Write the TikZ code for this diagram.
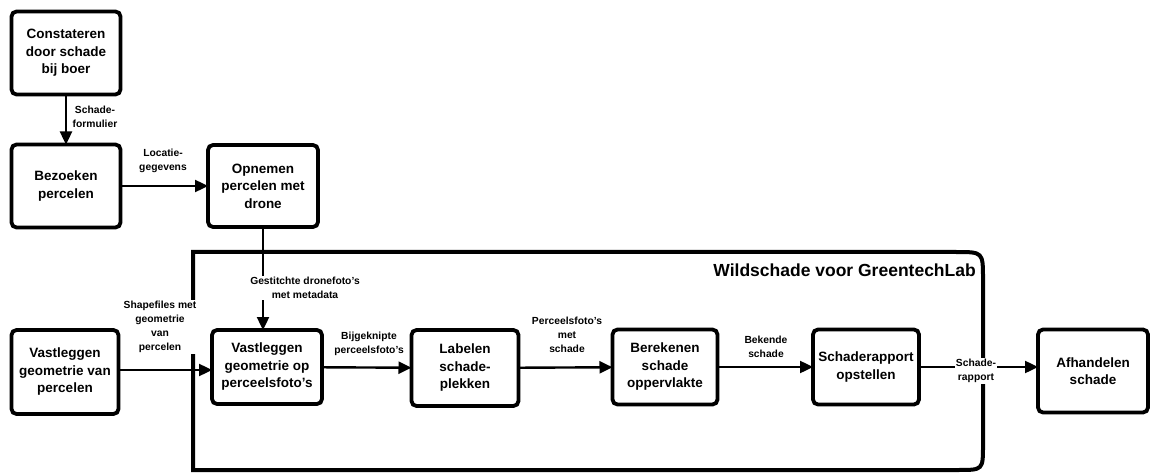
\documentclass[tikz,border=0pt]{standalone}
\usepackage{fontspec}
\setmainfont{Liberation Sans}
\usetikzlibrary{arrows.meta}
\begin{document}
\begin{tikzpicture}[x=1pt,y=-1pt,
 box/.style={draw, line width=3.8pt, rounded corners=5pt, align=center, font=\bfseries\fontsize{13.5}{17.5}\selectfont, inner sep=2pt, outer sep=0pt},
 flow/.style={line width=2.4pt, -{Triangle[length=13pt,width=12pt]}},
 lbl/.style={fill=white, align=center, font=\bfseries\fontsize{10.3}{14}\selectfont, inner sep=1pt},
 ttl/.style={font=\bfseries\fontsize{17.5}{20}\selectfont, inner sep=0pt}]
\useasboundingbox (0,0) rectangle (1157,473);
% container
\draw[line width=4pt] (193,470) -- (193,252) -- (956,252) .. controls (983,252) .. (983,279)
  -- (983,445) .. controls (983,470) .. (958,470) -- cycle;
\node[ttl, anchor=east] (title) at (976,270) {Wildschade voor GreentechLab};
% boxes
\node[box, minimum width=109pt, minimum height=83pt] (c) at (66,53) {Constateren\\door schade\\bij boer};
\node[box, minimum width=109pt, minimum height=83pt] (b) at (66,186) {Bezoeken\\percelen};
\node[box, minimum width=110pt, minimum height=82pt] (o) at (263,186) {Opnemen\\percelen met\\drone};
\node[box, minimum width=107pt, minimum height=84pt] (vg) at (65,372) {Vastleggen\\geometrie van\\percelen};
\node[box, minimum width=110pt, minimum height=74pt] (vp) at (267,367) {Vastleggen\\geometrie op\\perceelsfoto's};
\node[box, minimum width=107pt, minimum height=76pt] (l) at (465,368) {Labelen\\schade-\\plekken};
\node[box, minimum width=105pt, minimum height=75pt] (be) at (665,367) {Berekenen\\schade\\oppervlakte};
\node[box, minimum width=106pt, minimum height=75pt] (s) at (866,367) {Schaderapport\\opstellen};
\node[box, minimum width=110pt, minimum height=83pt] (a) at (1093,371) {Afhandelen\\schade};
% connectors
\draw[flow] (c) -- (b);
\draw[flow] (b) -- (o);
\draw[flow] (o.south) -- (o.south |- vp.north);
\draw[flow] (vg.east |- 0,370) -- (vp.west |- 0,370);
\draw[flow] (vp) -- (l);
\draw[flow] (l) -- (be);
\draw[flow] (be) -- (s);
\draw[flow] (s.east) -- (s.east -| a.west);
% labels
\node[lbl, fill=none] (l1) at (95,117) {Schade-\\formulier};
\node[lbl, fill=none] (l2) at (163,161) {Locatie-\\gegevens};
\node[lbl] (l3) at (305,288) {Gestitchte dronefoto's\\met metadata};
\node[lbl] (l4) at (160,327) {Shapefiles met\\geometrie\\van\\percelen};
\node[lbl, fill=none] (l5) at (369,344) {Bijgeknipte\\perceelsfoto's};
\node[lbl, fill=none] (l6) at (567,335) {Perceelsfoto's\\met\\schade};
\node[lbl, fill=none] (l7) at (766,347) {Bekende\\schade};
\node[lbl] (l8) at (976,371) {Schade-\\rapport};
\end{tikzpicture}
\end{document}
